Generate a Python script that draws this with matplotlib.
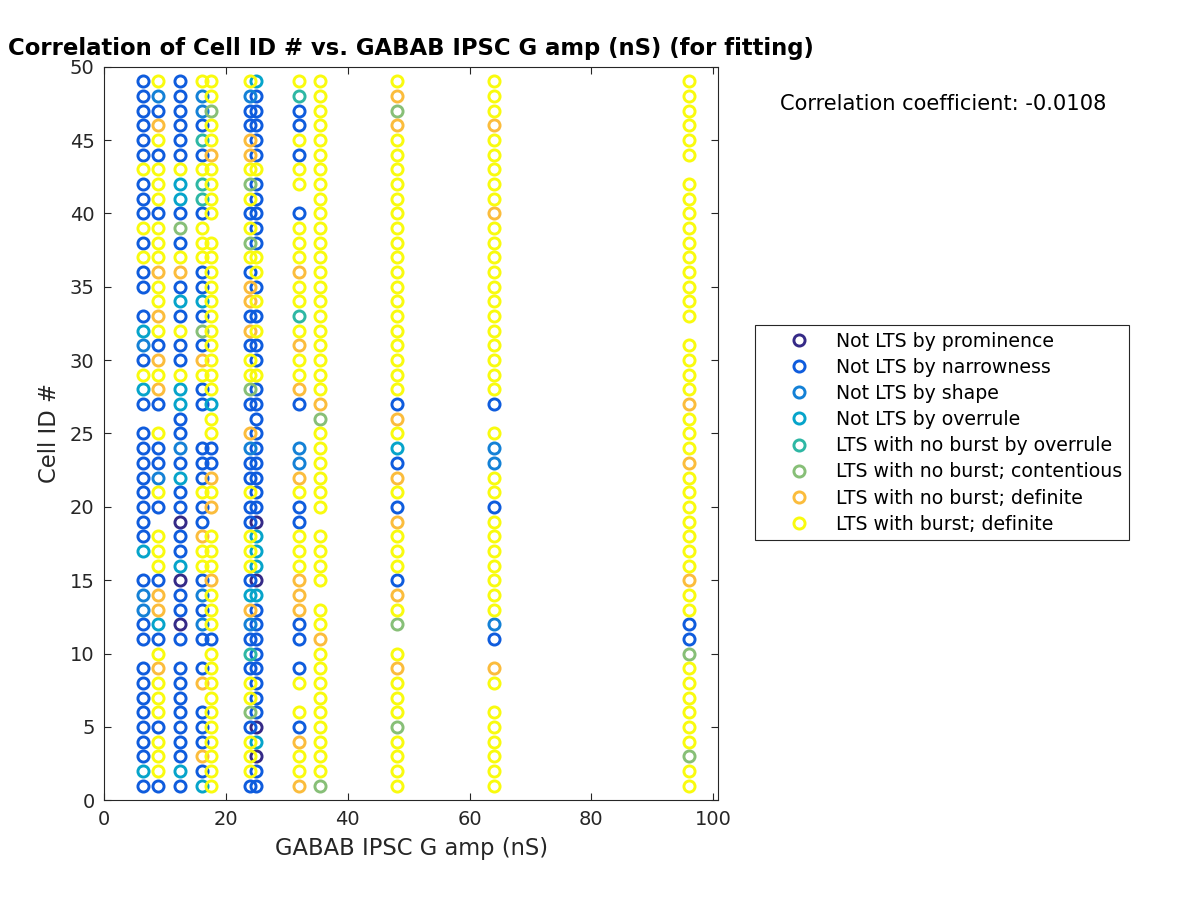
import numpy as np
import matplotlib
matplotlib.use('Agg')
import matplotlib.pyplot as plt

plt.rcParams['font.family'] = 'DejaVu Sans'

# GABAB IPSC G amp (nS) values that were tried
amp_values = [6.4, 8.8, 12.4, 16, 17.6, 24, 25, 32, 35.4, 48, 64, 96]

class_codes = ['P', 'B', 'S', 'O', 'T', 'G', 'R', 'Y']
class_labels = ['Not LTS by prominence', 'Not LTS by narrowness', 'Not LTS by shape',
                'Not LTS by overrule', 'LTS with no burst by overrule',
                'LTS with no burst; contentious', 'LTS with no burst; definite',
                'LTS with burst; definite']
class_colors = ['#352a87', '#0f5cdd', '#1481d6', '#06a4ca',
                '#2eb7a4', '#87bf77', '#fbbc3c', '#f9fb0e']

# classification per cell ID 1..49 for each amplitude ('.' = no point)
col_6p4  = "BOBBBBBBB." "BBSSB.OBBB" "BBBBB.BOYB" "SOB.BBYBYB" "BBYBBBBBB"
col_8p8  = "BYYYBYYYRY" "BORRBYYY.B" "YSBBY.BRYR" "BYRYYRYYYB" "YYYBYRBSY"
col_12p4 = "BOBBBBBBB." "BPBBPOBBPB" "BOBSBBOOYB" "BYBOBRYBGB" "OOYBBBBBB"
col_16   = "OBRBBB.RB." "BSBSBYYRBB" "YBBB..BBYR" "BGBOBBYYYB" "TTYBTBSSY"
col_17p6 = "YYYYYYYYYY" "BYYYRYYY.R" "YRBBYYOYYY" "YYYYYYYY.Y" "YYYRYYGYY"
col_24   = "BYYYBGYYBT" "BSROBYYYBB" "YBBSR.BGYY" "BRBRRBYGYB" "YGYRRBBSY"
col_25   = "BBPOPBBBBB" "BBBOPOOOPB" "BBBBBBBBYB" "BYBYBYYBBB" "BBYBBBBBO"
col_32   = "RYYRBY.YB." "BBRRRYYYBB" "YRSS..BRYY" "RYTYYRYYYB" ".YYBYBBTY"
col_35p4 = "GYYYYYYYYY" "RYY.YYYY.Y" "YYYYYGRYYY" "YYYYYYYYYY" "YYYYYYYYY"
col_48   = "YYYYGYYYRY" ".GYRBYYYRB" "YRBOYRBYYY" "YYYYYYYYYY" "YYYYYRGRY"
col_64   = "YYYYYY.YR." "BSYYYYYYYB" "YYSSY.BYYY" "YYYYYYYYYR" "YYYYYRYYY"
col_96   = "YYGYYYYYYG" "BBYYRYYYYY" "YYRYYYRYYY" "Y.YYYYYYYY" "YY.YYYYYY"

columns = [col_6p4, col_8p8, col_12p4, col_16, col_17p6, col_24,
           col_25, col_32, col_35p4, col_48, col_64, col_96]
cell_ids = np.arange(1, 50)
corr_coef = -0.0108

fig = plt.figure(figsize=(12, 9), dpi=100)
ax = fig.add_axes([0.0869, 0.1108, 0.5114, 0.8151])

handles = []
for code, label, color in zip(class_codes, class_labels, class_colors):
    xs, ys = [], []
    for amp, col in zip(amp_values, columns):
        for cid, c in zip(cell_ids, col):
            if c == code:
                xs.append(amp)
                ys.append(cid)
    h, = ax.plot(xs, ys, 'o', ls='none', mfc='none', mec=color, ms=8, mew=2.1, label=label)
    handles.append(h)

ax.set_xlim(0, max(amp_values) * 1.05)
ax.set_ylim(0, 50)
ax.set_xticks(np.arange(0, 101, 20))
ax.set_yticks(np.arange(0, 51, 5))
ax.tick_params(direction='in', top=True, right=True, length=5, width=0.8,
               labelsize=14, pad=7, colors='#262626')
for s in ax.spines.values():
    s.set_color('#262626')
    s.set_linewidth(0.8)

ax.set_xlabel('GABAB IPSC G amp (nS)', fontsize=16.3, color='#262626', labelpad=6)
ax.set_ylabel('Cell ID #', fontsize=16.3, color='#262626', labelpad=6)
ax.set_title('Correlation of Cell ID # vs. GABAB IPSC G amp (nS) (for fitting)',
             fontsize=16.4, fontweight='bold', pad=8.5)

fig.text(0.65, 0.885, 'Correlation coefficient: %.4f' % corr_coef, fontsize=15.1, va='center')

leg = fig.legend(handles=handles, loc='upper left', bbox_to_anchor=(0.629, 0.639),
                 fontsize=13.6, frameon=True, fancybox=False, edgecolor='#262626',
                 framealpha=1, handlelength=3.95, handletextpad=0.0,
                 labelspacing=0.38, borderpad=0.35, borderaxespad=0)
leg.get_frame().set_linewidth(0.8)

fig.savefig('out.png', dpi=100)
